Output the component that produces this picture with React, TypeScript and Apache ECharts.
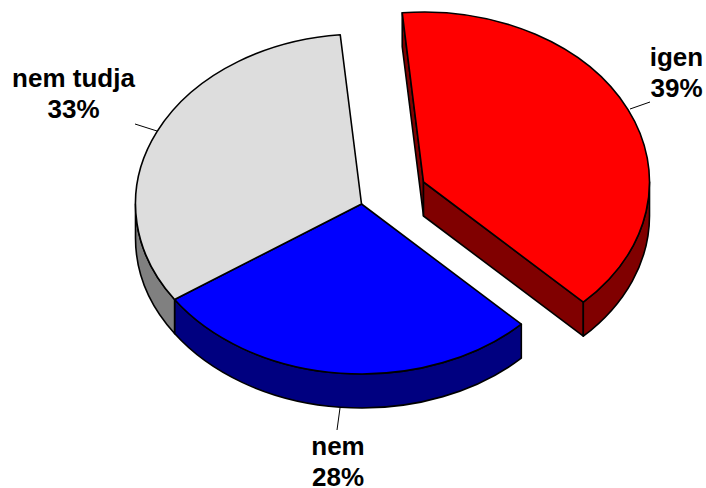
import React, { useEffect, useRef } from "react";
import * as echarts from "echarts";

const categories = ["nem", "nem tudja", "igen"];
const shares = [28, 33, 39];
const topColors = ["#0000FF", "#DDDDDD", "#FF0000"];
const sideColors = ["#000080", "#808080", "#800000"];

const START_DEG = 45;
const RX = 226;
const RY = 170;
const DEPTH = 34;
const CENTER = [361.5, 204];
const EXPLODE = [[0, 0], [0, 0], [62, -22]];
const LABEL_POS = [[338, 446], [73.5, 77.5], [676.5, 56.5]];
const LINE_GAP = 31;
const LEADERS = [
  [[340, 408], [337, 430]],
  [[157, 131], [135, 124]],
  [[630, 109], [650, 102]],
];

const rad = (d: number) => (d * Math.PI) / 180;
const f = (n: number) => n.toFixed(2);

function renderItem(params: any, api: any) {
  const i = params.dataIndex;
  const total = shares.reduce((a, b) => a + b, 0);
  const before = shares.slice(0, i).reduce((a, b) => a + b, 0);
  const s = START_DEG + (before / total) * 360;
  const e = s + (api.value(0) / total) * 360;
  const cx = CENTER[0] + EXPLODE[i][0];
  const cy = CENTER[1] + EXPLODE[i][1];
  const pt = (deg: number, dy = 0) => [cx + RX * Math.cos(rad(deg)), cy + RY * Math.sin(rad(deg)) + dy];
  const P = (p: number[]) => `${f(p[0])} ${f(p[1])}`;
  const stroke = { stroke: "#000", lineWidth: 1.6, lineJoin: "round" };
  const children: any[] = [];
  const exploded = EXPLODE[i][0] !== 0;

  const face = (deg: number) => ({
    type: "path",
    shape: {
      pathData: `M${cx} ${cy}L${P(pt(deg))}L${P(pt(deg, DEPTH))}L${cx} ${cy + DEPTH}Z`,
    },
    style: { fill: sideColors[i], ...stroke },
  });
  if (exploded) {
    children.push(face(s), face(e));
  }
  [0, 360].forEach((k) => {
    const a = Math.max(s, k);
    const b = Math.min(e, k + 180);
    if (b <= a) return;
    children.push({
      type: "path",
      shape: {
        pathData: `M${P(pt(a))}A${RX} ${RY} 0 0 1 ${P(pt(b))}L${P(pt(b, DEPTH))}A${RX} ${RY} 0 0 0 ${P(pt(a, DEPTH))}Z`,
      },
      style: { fill: sideColors[i], ...stroke },
    });
  });
  const large = e - s > 180 ? 1 : 0;
  children.push({
    type: "path",
    shape: {
      pathData: `M${cx} ${cy}L${P(pt(s))}A${RX} ${RY} 0 ${large} 1 ${P(pt(e))}Z`,
    },
    style: { fill: topColors[i], ...stroke },
  });
  const [l0, l1] = LEADERS[i];
  children.push({
    type: "line",
    shape: { x1: l0[0], y1: l0[1], x2: l1[0], y2: l1[1] },
    style: { stroke: "#000", lineWidth: 1 },
  });
  [categories[i], `${api.value(0)}%`].forEach((line, n) => {
    children.push({
      type: "text",
      style: {
        x: LABEL_POS[i][0],
        y: LABEL_POS[i][1] + n * LINE_GAP,
        text: line,
        fill: "#000",
        fontFamily: "Liberation Sans",
        fontWeight: "bold",
        fontSize: 26,
        lineHeight: 20,
        align: "center",
        verticalAlign: "middle",
      },
    });
  });
  return { type: "group", children };
}

export default function App() {
  const ref = useRef<HTMLDivElement>(null);
  useEffect(() => {
    const chart = echarts.init(ref.current!, null, { renderer: "svg" });
    chart.setOption({
      animation: false,
      backgroundColor: "#fff",
      series: [
        {
          type: "custom",
          coordinateSystem: "none",
          data: shares.map((v) => [v]),
          renderItem,
          silent: true,
        },
      ],
    });
    return () => chart.dispose();
  }, []);
  return <div ref={ref} style={{ position: "fixed", left: 0, top: 0, width: 706, height: 488 }} />;
}
